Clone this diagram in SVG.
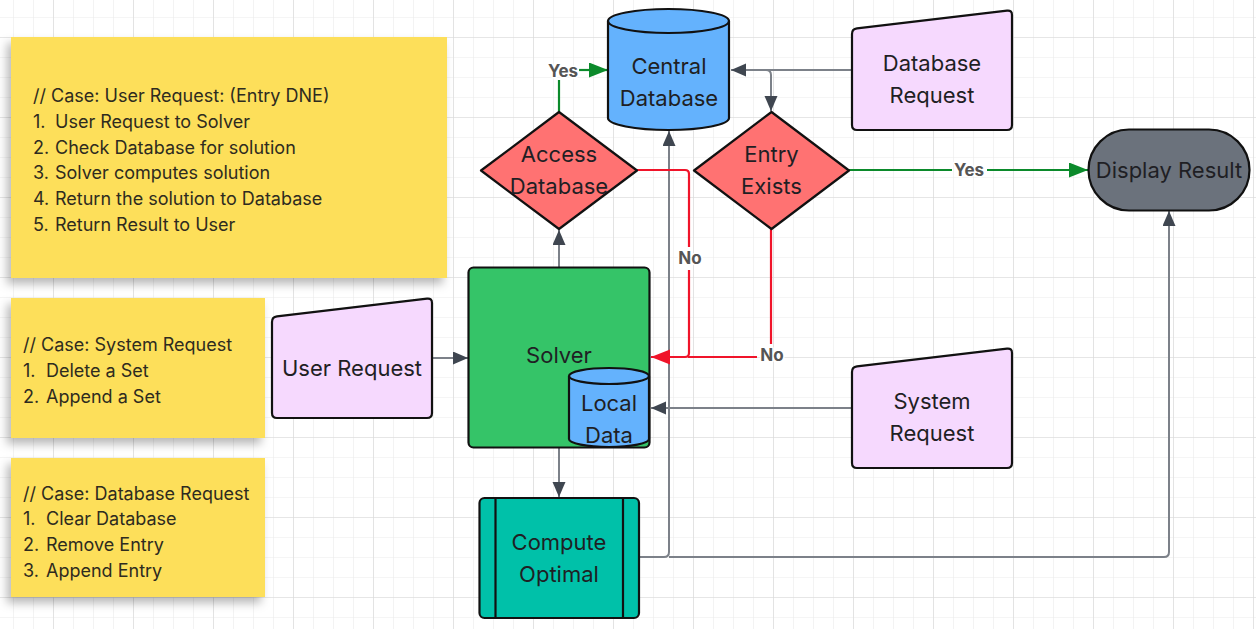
<svg xmlns="http://www.w3.org/2000/svg" width="1256" height="629" viewBox="0 0 1256 629">
<style>
.note{fill:#fddf5a}
.nt{font-family:Inter,"Liberation Sans",sans-serif;font-size:18px;fill:#2e2b1f}
.lbl{font-family:Inter,"Liberation Sans",sans-serif;font-size:22px;fill:#1f1f24;text-anchor:middle}
.edge{font-family:Inter,"Liberation Sans",sans-serif;font-size:17px;font-weight:700;fill:#555;text-anchor:middle;stroke:#fff;stroke-width:3;paint-order:stroke;stroke-linejoin:round}
.shape{stroke:#111;stroke-width:2.2;stroke-linejoin:round}
.req{fill:#f6d9fe}
.dia{fill:#ff7272}
.db{fill:#64b2fd}
.gray{fill:none;stroke:#7c8189;stroke-width:2}
.red{fill:none;stroke:#f0142a;stroke-width:2.2}
.green{fill:none;stroke:#0b8a2b;stroke-width:2.2}
</style>
<defs>
<pattern id="minor" x="13" y="17" width="20" height="20" patternUnits="userSpaceOnUse">
<path d="M0,0 V20 M0,0 H20" stroke="#ebebeb" stroke-width="1.2" fill="none"/>
</pattern>
<pattern id="major" x="53" y="37" width="80" height="80" patternUnits="userSpaceOnUse">
<path d="M0,0 V80 M0,0 H80" stroke="#d8d8d8" stroke-width="1.2" fill="none"/>
</pattern>
<filter id="shadow" x="-10%" y="-10%" width="120%" height="130%">
<feDropShadow dx="-4" dy="6" stdDeviation="5" flood-color="#000" flood-opacity="0.28"/>
</filter>
<marker id="aG" markerUnits="userSpaceOnUse" markerWidth="16" markerHeight="14" refX="15" refY="6.5" orient="auto">
<path d="M0,0 L15,6.5 L0,13 z" fill="#3f4650"/>
</marker>
<marker id="aR" markerUnits="userSpaceOnUse" markerWidth="20" markerHeight="16" refX="19" refY="7.5" orient="auto">
<path d="M0,0 L19,7.5 L0,15 z" fill="#f0142a"/>
</marker>
<marker id="aGr" markerUnits="userSpaceOnUse" markerWidth="20" markerHeight="16" refX="19" refY="7.5" orient="auto">
<path d="M0,0 L19,7.5 L0,15 z" fill="#0b8a2b"/>
</marker>
</defs>
<rect width="1256" height="629" fill="#fff"/>
<rect width="1256" height="629" fill="url(#minor)"/>
<rect width="1256" height="629" fill="url(#major)"/>

<g id="note-user">
<rect class="note" x="11" y="37" width="436" height="241" filter="url(#shadow)"/>
<text class="nt" x="33" y="101.5">// Case: User Request: (Entry DNE)</text>
<text class="nt" x="33" y="127.5">1.</text><text class="nt" x="55" y="127.5">User Request to Solver</text>
<text class="nt" x="33" y="153.5">2.</text><text class="nt" x="55" y="153.5">Check Database for solution</text>
<text class="nt" x="33" y="179">3.</text><text class="nt" x="55" y="179">Solver computes solution</text>
<text class="nt" x="33" y="205">4.</text><text class="nt" x="55" y="205">Return the solution to Database</text>
<text class="nt" x="33" y="230.5">5.</text><text class="nt" x="55" y="230.5">Return Result to User</text>
</g>
<g id="note-system">
<rect class="note" x="11" y="298" width="254" height="140" filter="url(#shadow)"/>
<text class="nt" x="23" y="351">// Case: System Request</text>
<text class="nt" x="23" y="377">1.</text><text class="nt" x="46" y="377">Delete a Set</text>
<text class="nt" x="23" y="402.5">2.</text><text class="nt" x="46" y="402.5">Append a Set</text>
</g>
<g id="note-database">
<rect class="note" x="11" y="458" width="254" height="139" filter="url(#shadow)"/>
<text class="nt" x="23" y="499.5">// Case: Database Request</text>
<text class="nt" x="23" y="525">1.</text><text class="nt" x="46" y="525">Clear Database</text>
<text class="nt" x="23" y="551">2.</text><text class="nt" x="46" y="551">Remove Entry</text>
<text class="nt" x="23" y="577">3.</text><text class="nt" x="46" y="577">Append Entry</text>
</g>

<g id="connectors">
<path class="gray" d="M432,358 H468" marker-end="url(#aG)"/>
<path class="gray" d="M559,267 V230" marker-end="url(#aG)"/>
<path class="gray" d="M559,448 V497" marker-end="url(#aG)"/>
<path class="gray" d="M852,70 H731" marker-end="url(#aG)"/>
<path class="gray" d="M852,70 H766 Q771,70 771,75 V111" marker-end="url(#aG)"/>
<path class="gray" d="M852,408 H651" marker-end="url(#aG)"/>
<path class="gray" d="M639,557 H664 Q669,557 669,552 V131" marker-end="url(#aG)"/>
<path class="gray" d="M669,557 H1164 Q1169,557 1169,552 V211" marker-end="url(#aG)"/>
<path class="green" d="M559,112 V80"/>
<path class="green" d="M579,70 H608" marker-end="url(#aGr)"/>
<text class="edge" x="563" y="76.5">Yes</text>
<path class="green" d="M849,170 H952"/>
<path class="green" d="M987,170 H1088" marker-end="url(#aGr)"/>
<text class="edge" x="969" y="176">Yes</text>
<path class="red" d="M637,170 H685 Q689,170 689,174 V247"/>
<path class="red" d="M689,270 V353 Q689,357 685,357 H651" marker-end="url(#aR)"/>
<text class="edge" x="690" y="264">No</text>
<path class="red" d="M771,229 V344"/>
<path class="red" d="M757,357 H688"/>
<text class="edge" x="772" y="361">No</text>
</g>

<g id="central-database">
<path class="shape db" d="M608,21 A60.5,12 0 0 1 729,21 V118 A60.5,12 0 0 1 608,118 Z"/>
<path class="shape" fill="none" d="M608,21 A60.5,12 0 0 0 729,21"/>
<text class="lbl" x="669" y="74">Central</text>
<text class="lbl" x="669" y="106">Database</text>
</g>
<g id="access-database">
<path class="shape dia" d="M559,112 L637,170.5 L559,229 L481,170.5 Z"/>
<text class="lbl" x="559" y="162">Access</text>
<text class="lbl" x="559" y="194">Database</text>
</g>
<g id="entry-exists">
<path class="shape dia" d="M771.5,112 L849,170.5 L771.5,229 L694,170.5 Z"/>
<text class="lbl" x="771.5" y="162">Entry</text>
<text class="lbl" x="771.5" y="193.5">Exists</text>
</g>
<g id="database-request">
<path class="shape req" d="M852,34 Q852,29 857,28.4 L1007,10.6 Q1012,10 1012,15 V125 Q1012,130 1007,130 H857 Q852,130 852,125 Z"/>
<text class="lbl" x="932" y="70.5">Database</text>
<text class="lbl" x="932" y="102.5">Request</text>
</g>
<g id="system-request">
<path class="shape req" d="M852,372 Q852,367 857,366.4 L1007,348.6 Q1012,348 1012,353 V463 Q1012,468 1007,468 H857 Q852,468 852,463 Z"/>
<text class="lbl" x="932" y="409">System</text>
<text class="lbl" x="932" y="440.5">Request</text>
</g>
<g id="user-request">
<path class="shape req" d="M272,322 Q272,317 277,316.4 L427,298.6 Q432,298 432,303 V413 Q432,418 427,418 H277 Q272,418 272,413 Z"/>
<text class="lbl" x="352" y="375.5">User Request</text>
</g>
<g id="display-result">
<rect class="shape" x="1088.5" y="129.5" width="161" height="81" rx="40.5" fill="#6b727c"/>
<text class="lbl" x="1169" y="178">Display Result</text>
</g>
<g id="solver">
<rect class="shape" x="468.5" y="267.5" width="181" height="180" rx="5" fill="#35c468"/>
<text class="lbl" x="559" y="363">Solver</text>
</g>
<g id="local-data">
<path class="shape db" d="M569,376 A40,8 0 0 1 649,376 V439 A40,8 0 0 1 569,439 Z"/>
<path class="shape" fill="none" d="M569,376 A40,8 0 0 0 649,376"/>
<text class="lbl" x="609" y="410.5">Local</text>
<text class="lbl" x="609" y="442.5">Data</text>
</g>
<g id="compute-optimal">
<rect class="shape" x="479.5" y="498" width="159.5" height="120" rx="5" fill="#00c1a9"/>
<path class="shape" d="M495.5,498 V618 M623,498 V618"/>
<text class="lbl" x="559" y="550">Compute</text>
<text class="lbl" x="559" y="582">Optimal</text>
</g>
</svg>
